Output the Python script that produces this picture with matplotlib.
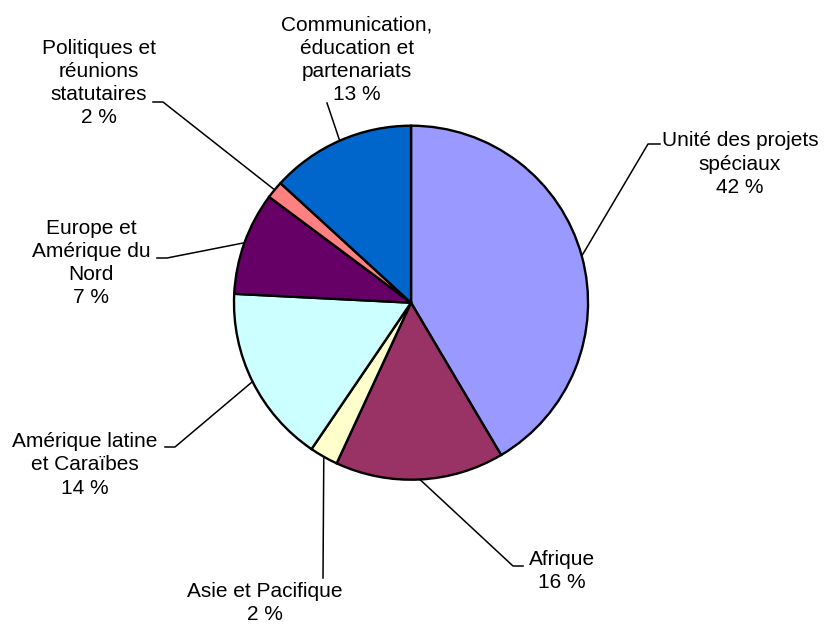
import numpy as np
import matplotlib
matplotlib.use('Agg')
import matplotlib.pyplot as plt

plt.rcParams['font.family'] = ['Liberation Sans', 'DejaVu Sans']

# data (shares, labels as printed)
categories = ['Unité des projets\nspéciaux', 'Afrique', 'Asie et Pacifique',
              'Amérique latine\net Caraïbes', 'Europe et\nAmérique du\nNord',
              'Politiques et\nréunions\nstatutaires',
              'Communication,\néducation et\npartenariats']
shares = [41.5, 15.4, 2.6, 16.3, 9.4, 1.6, 13.2]
pct_labels = ['42 %', '16 %', '2 %', '14 %', '7 %', '2 %', '13 %']
colors = ['#9999FF', '#993366', '#FFFFCC', '#CCFFFF', '#660066', '#FF8080', '#0066CC']

W, H = 826, 625
fig = plt.figure(figsize=(W / 100, H / 100), dpi=100)
ax = fig.add_axes([0, 0, 1, 1])

cx, cy, R = 411, H - 302.7, 177
wedges, _ = ax.pie(shares, colors=colors, startangle=90, counterclock=False,
                   explode=[0.035, 0, 0, 0, 0, 0, 0], center=(cx, cy), radius=R,
                   wedgeprops=dict(edgecolor='black', linewidth=1.7))
ax.set_xlim(0, W)
ax.set_ylim(0, H)
ax.set_aspect('equal')
ax.axis('off')

# label layout in pixel coords (y from top): text centre, elbow, end of short tick
layout = [
    ((740, 164), (648, 144), (660, 144)),
    ((562, 571), (513, 566), (523, 566)),
    ((265, 603), (323, 578), None),
    ((85, 465), (175, 447), (165, 447)),
    ((91, 263), (167, 258), (157, 258)),
    ((99, 83), (163, 102), (153, 102)),
    ((357, 60), (327, 103), None),
]

for w, cat, pct, (txt, elbow, end) in zip(wedges, categories, pct_labels, layout):
    ang = np.deg2rad((w.theta1 + w.theta2) / 2)
    x0 = w.center[0] + w.r * np.cos(ang)
    y0 = w.center[1] + w.r * np.sin(ang)
    xs = [x0, elbow[0]]
    ys = [y0, H - elbow[1]]
    if end is not None:
        xs.append(end[0])
        ys.append(H - end[1])
    ax.plot(xs, ys, color='black', lw=1.1)
    ax.text(txt[0], H - txt[1], cat + '\n' + pct, ha='center', va='center',
            fontsize=15, linespacing=1.27)

fig.savefig('out.png', dpi=100)
